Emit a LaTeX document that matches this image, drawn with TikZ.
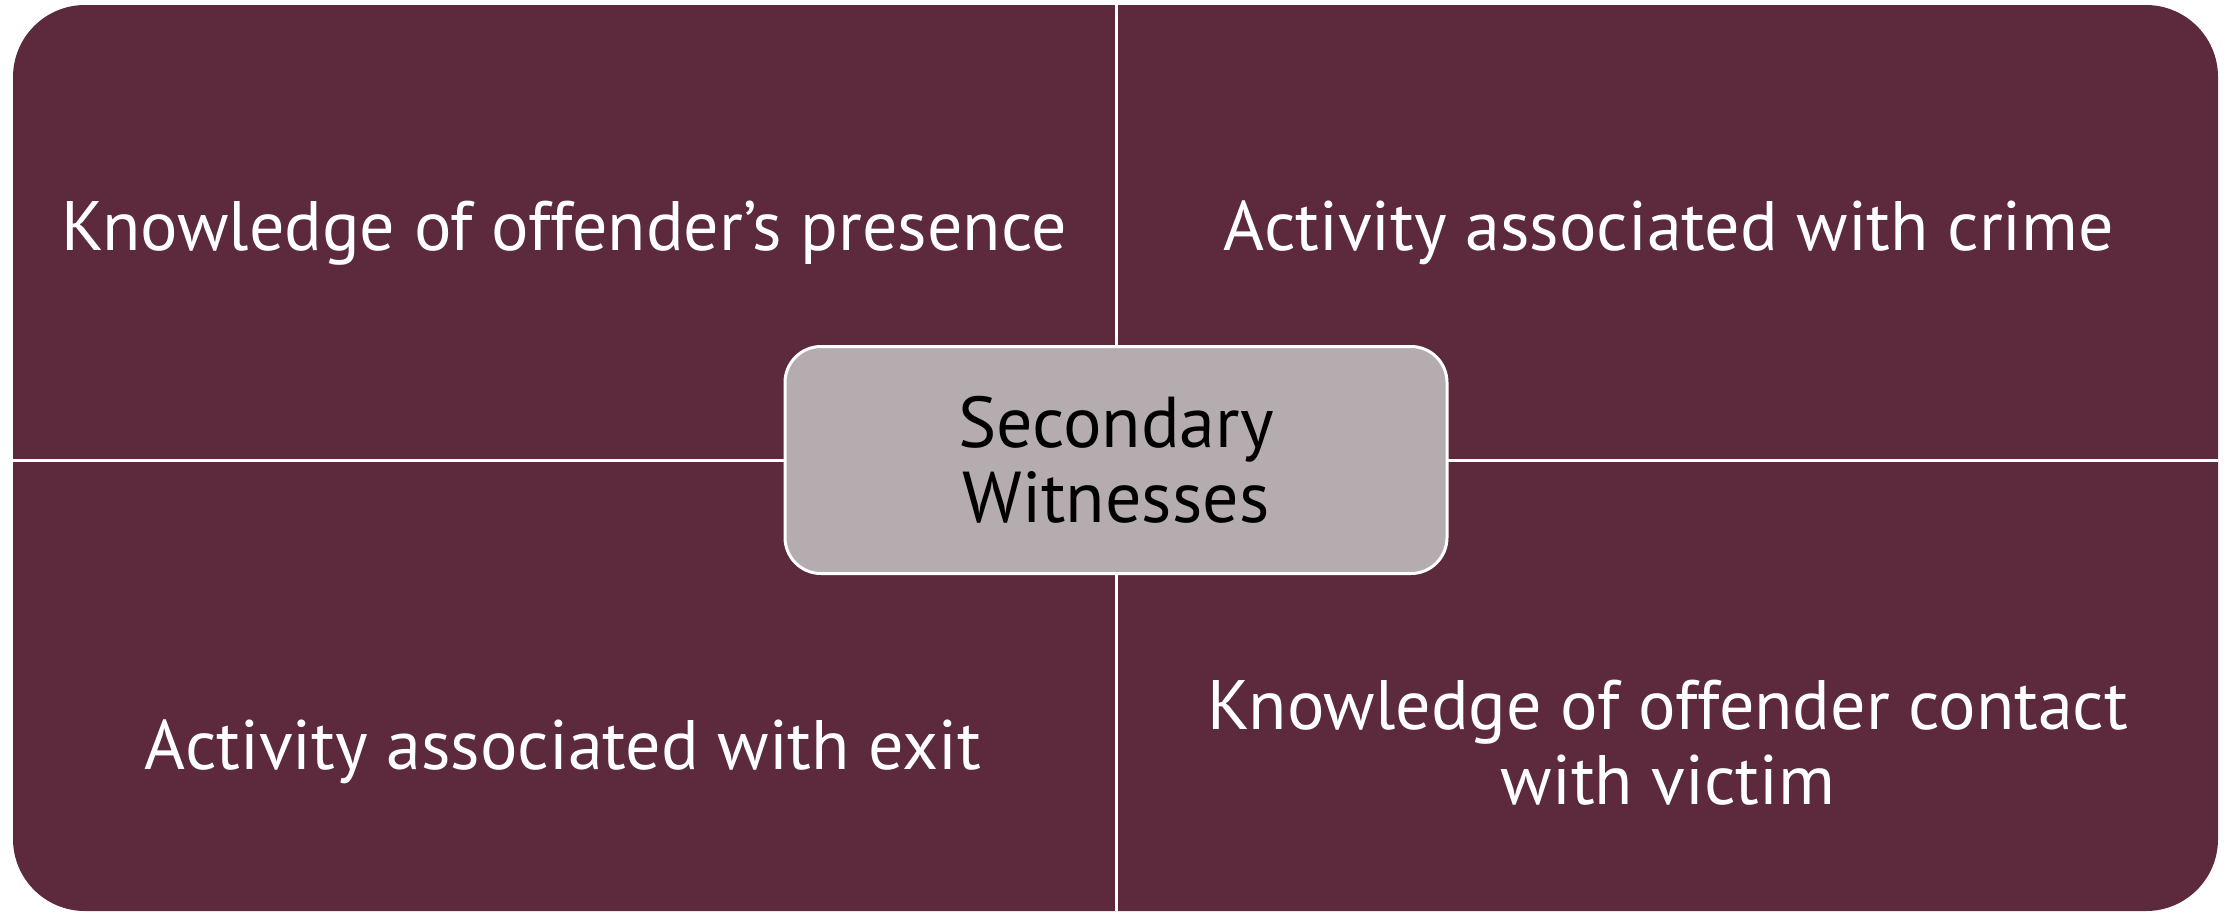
\documentclass[tikz,border=0pt]{standalone}
\usepackage{fontspec}
\setmainfont{PT Sans}
\definecolor{quadfill}{RGB}{92,41,61}
\definecolor{centerfill}{RGB}{180,172,175}
\begin{document}
\begin{tikzpicture}[x=0.5pt,y=-0.5pt,
  quadtext/.style={text=white, align=center, anchor=base, inner sep=0pt,
    font=\fontsize{35pt}{37.7pt}\selectfont},
  divider/.style={draw=white, line width=1.5pt},
  centerbox/.style={draw=white, line width=1.5pt, fill=centerfill, rounded corners=18pt,
    minimum width=331pt, minimum height=113.5pt, align=center, text=black,
    font=\fontsize{36pt}{37.7pt}\selectfont}]
\useasboundingbox (0,0) rectangle (2233,912);
\fill[quadfill, rounded corners=36pt] (13,5) rectangle (2218,911);
\coordinate (left) at (13,460);
\coordinate (right) at (2218,460);
\coordinate (top) at (1116,5);
\coordinate (bottom) at (1116,911);
\draw[divider] (left) -- (right);
\draw[divider] (top) -- (bottom);
\node[centerbox] (center) at (1116,460) {Secondary\\Witnesses};
\node[quadtext] (tl) at (564,250.6) {Knowledge of offender’s presence};
\node[quadtext] (tr) at (1669,250.6) {Activity associated with crime};
\node[quadtext] (bl) at (563,769) {Activity associated with exit};
\node[quadtext] (br) at (1668,804.6) {Knowledge of offender contact\\with victim};
\end{tikzpicture}
\end{document}
